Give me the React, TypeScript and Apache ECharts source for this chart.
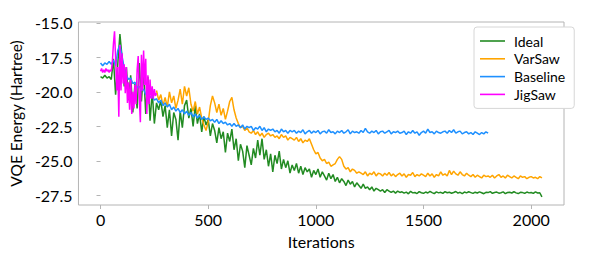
import React, { useEffect, useRef } from "react";
import * as echarts from "echarts";

const seriesNames = ["Ideal", "VarSaw", "Baseline", "JigSaw"];
const seriesColors = ["#228b22", "#ffa500", "#1e90ff", "#ff00ff"];

const xTicks = [0, 500, 1000, 1500, 2000];
const yTicks = [-27.5, -25.0, -22.5, -20.0, -17.5, -15.0];

// Ideal: iterations 0..2050, step 10
const idealStart = 0;
const idealStep = 10;
const idealValues = [
  -18.9, -19.0, -18.8, -19.0, -18.9, -19.1,
  -17.6, -20.2, -18.0, -15.8,
  -17.5, -19.6, -18.2, -20.6, -18.8, -21.5, -19.4, -21.2, -17.9, -20.7,
  -18.4, -21.6, -18.9, -22.1, -20.0, -22.3, -20.8, -21.3, -20.6, -21.8,
  -21.0, -22.6, -21.3, -23.2, -21.5, -22.0, -23.5, -21.4, -22.6, -21.0,
  -20.6, -21.9, -21.2, -22.5, -21.0, -22.3, -21.6, -22.9, -21.8, -22.4,
  -22.0, -23.2, -22.3, -22.8, -23.7, -22.6, -23.4, -22.9, -24.4, -23.0,
  -23.6, -22.7, -24.2, -23.4, -25.0, -23.8, -24.3, -25.5, -23.9, -24.6,
  -25.3, -24.1, -24.8, -23.5, -24.6, -23.4, -24.9, -24.2, -25.4, -24.5,
  -25.8, -24.6, -25.2, -24.3, -25.6, -24.9, -25.5, -25.0, -25.9, -25.3,
  -25.7, -25.2, -25.9, -25.4, -26.0, -25.5, -25.8, -25.6, -26.2, -25.7,
  -26.0, -25.6, -26.2, -25.8, -26.1, -26.4, -25.9, -26.3, -26.0, -26.5,
  -26.2, -26.6, -26.3, -26.5, -26.8, -26.4, -26.7, -26.5, -26.9, -26.6,
  -26.8, -27.0, -26.7, -27.0, -26.9, -27.1, -26.9, -27.2, -27.0, -27.1,
  -27.2, -27.1, -27.3, -27.1, -27.2, -27.3, -27.2, -27.35, -27.2, -27.3,
  -27.25, -27.35, -27.28, -27.4, -27.22, -27.33, -27.3, -27.38, -27.24, -27.32,
  -27.36, -27.27, -27.34, -27.22, -27.31, -27.39, -27.26, -27.33, -27.29, -27.37,
  -27.24, -27.32, -27.28, -27.36, -27.3, -27.23, -27.35, -27.29, -27.38, -27.27,
  -27.33, -27.25, -27.31, -27.37, -27.28, -27.34, -27.26, -27.32, -27.39, -27.29,
  -27.31, -27.24, -27.36, -27.3, -27.27, -27.35, -27.32, -27.26, -27.38, -27.3,
  -27.28, -27.34, -27.25, -27.33, -27.38, -27.29, -27.31, -27.36, -27.27, -27.33,
  -27.3, -27.37, -27.26, -27.34, -27.32, -27.62,
];

// VarSaw: iterations 260..2050, step 10
const varsawStart = 260;
const varsawStep = 10;
const varsawValues = [
  -19.9, -20.6, -20.2, -21.0,
  -20.4, -21.1, -20.0, -20.8, -20.3, -21.2, -20.6, -19.8, -20.9, -19.6,
  -20.3, -19.7, -20.9, -21.4, -20.7, -21.6, -21.1, -21.9, -22.4, -22.8,
  -22.2, -21.0, -20.3, -20.8, -21.5, -20.9, -21.7, -21.2, -22.0, -21.4,
  -20.7, -20.4, -21.3, -21.9, -22.3, -22.6, -22.5, -22.8, -22.6, -22.9,
  -23.0, -22.8, -23.1, -22.9, -23.2, -23.0, -23.3, -23.1, -23.0, -23.2,
  -23.1, -23.3, -23.2, -23.4, -23.1, -23.3, -23.2, -23.5, -23.3, -23.4,
  -23.5, -23.3, -23.6, -23.4, -23.7, -23.5, -23.6, -23.4, -23.8, -24.2,
  -24.5, -24.4, -24.8, -25.0, -24.9, -25.2, -25.1, -25.4, -25.3, -25.2,
  -24.9, -24.7, -24.9, -25.4, -25.6, -25.5, -25.8, -25.6, -25.7, -25.9,
  -25.8, -25.9, -26.0, -25.8, -26.1, -25.9, -26.0, -25.8, -26.1, -25.9,
  -25.95, -26.1, -25.9, -26.05, -25.85, -26.1, -25.95, -26.15, -26.0, -25.9,
  -26.1, -25.95, -26.2, -26.0, -26.05, -25.85, -26.15, -26.0, -26.1, -25.95,
  -26.05, -26.15, -25.9, -26.1, -25.95, -26.2, -26.0, -26.1, -25.8, -26.05,
  -25.95, -26.1, -25.7, -26.0, -25.75, -25.95, -26.05, -25.8, -26.0, -26.1,
  -25.9, -26.05, -26.15, -26.0, -26.2, -26.05, -26.15, -26.25, -26.05, -26.15,
  -26.1, -26.2, -26.05, -26.25, -26.1, -26.0, -26.2, -26.1, -26.25, -26.05,
  -26.15, -26.25, -26.1, -26.2, -26.3, -26.1, -26.2, -26.15, -26.3, -26.2,
  -26.15, -26.25, -26.2, -26.3, -26.15, -26.25,
];

// Baseline: iterations 0..1800, step 10
const baselineStart = 0;
const baselineStep = 10;
const baselineValues = [
  -17.9, -18.1, -17.9, -18.0, -17.8, -18.0,
  -17.7, -18.1, -17.0, -16.6,
  -17.4, -18.3, -18.8, -19.1, -19.0, -19.4, -19.3, -19.7, -19.6, -19.9,
  -19.8, -20.2, -20.1, -20.4, -20.3, -20.6, -20.5, -20.8, -20.6, -21.0,
  -20.8, -21.1, -20.9, -21.3, -21.1, -21.4, -21.2, -21.5, -21.3, -21.6,
  -21.4, -21.7, -21.5, -21.8, -21.6, -21.9, -21.7, -22.0, -21.8, -22.0,
  -21.9, -22.1, -22.0, -22.2, -22.0, -22.3, -22.1, -22.3, -22.2, -22.4,
  -22.3, -22.5, -22.3, -22.5, -22.4, -22.6, -22.4, -22.7, -22.5, -22.6,
  -22.5, -22.8, -22.6, -22.7, -22.5, -22.8, -22.6, -22.9, -22.7, -22.8,
  -22.7, -22.9, -22.8, -23.0, -22.7, -22.9, -22.8, -23.0, -22.8, -22.9,
  -22.8, -23.0, -22.85, -22.95, -22.75, -23.05, -22.9, -22.8, -23.0, -22.85,
  -22.95, -22.8, -23.05, -22.9, -22.85, -23.0, -22.75, -22.95, -22.9, -23.05,
  -22.85, -22.95, -22.8, -23.0, -22.9, -22.75, -23.05, -22.85, -22.95, -22.9,
  -23.0, -22.8, -22.95, -22.65, -22.9, -23.0, -22.85, -22.95, -22.8, -23.05,
  -22.9, -22.85, -23.0, -22.9, -22.8, -23.05, -22.9, -22.95, -22.85, -23.0,
  -22.95, -22.85, -23.1, -22.9, -23.0, -22.8, -23.0, -22.9, -23.15, -22.95,
  -22.85, -23.0, -22.7, -22.95, -22.9, -23.05, -22.85, -22.95, -23.0, -22.9,
  -22.85, -23.0, -22.8, -22.95, -22.75, -23.0, -22.9, -22.85, -23.05, -22.95,
  -22.9, -23.05, -22.95, -23.1, -22.9, -23.0, -23.1, -22.95, -23.05, -22.9,
  -23.0,
];

// JigSaw: iterations 0..260, step 5
const jigsawStart = 0;
const jigsawStep = 5;
const jigsawValues = [
  -18.5, -18.3, -18.6, -18.4, -18.6, -18.3, -18.5, -18.4, -18.6, -18.4, -18.5,
  -17.8, -16.5, -15.6, -17.5, -19.9, -18.2, -21.8, -16.6, -19.9, -17.2,
  -19.4, -18.0, -20.1, -18.2, -20.8, -19.3, -21.3, -19.1, -21.6, -20.0,
  -21.2, -19.5, -20.9, -18.4, -17.4, -20.5, -22.2, -17.3, -19.9, -17.0,
  -19.5, -17.6, -21.6, -18.8, -20.9, -19.1, -20.5, -19.6, -20.5, -19.8,
  -20.3, -20.1,
];

const seriesStarts = [idealStart, varsawStart, baselineStart, jigsawStart];
const seriesSteps = [idealStep, varsawStep, baselineStep, jigsawStep];
const seriesValues = [idealValues, varsawValues, baselineValues, jigsawValues];

const FONT = "Lato, 'DejaVu Sans', sans-serif";

export default function App() {
  const ref = useRef<HTMLDivElement>(null);
  useEffect(() => {
    if (!ref.current) return;
    const chart = echarts.init(ref.current, undefined, { renderer: "svg" });
    const series = seriesNames.map((name, k) => ({
      name,
      type: "line",
      data: seriesValues[k].map((v, i) => [seriesStarts[k] + i * seriesSteps[k], v]),
      symbol: "none",
      showSymbol: false,
      lineStyle: { color: seriesColors[k], width: 1.5 },
      itemStyle: { color: seriesColors[k] },
      emphasis: { disabled: true },
      z: 2 + k,
    }));
    chart.setOption({
      animation: false,
      grid: {
        left: 76,
        right: 34,
        top: 22,
        bottom: 48,
        show: true,
        borderColor: "#b4b4b4",
        borderWidth: 1,
        backgroundColor: "transparent",
      },
      legend: {
        orient: "vertical",
        left: 474,
        top: 27,
        data: seriesNames,
        icon: "rect",
        itemWidth: 25,
        itemHeight: 1.6,
        itemGap: 3.8,
        padding: [7, 9, 7, 6],
        borderColor: "#d6d6d6",
        borderWidth: 1,
        borderRadius: 3,
        backgroundColor: "#ffffff",
        textStyle: { fontFamily: FONT, fontSize: 14, color: "#000", padding: [0, 0, 0, 4] },
      },
      xAxis: {
        type: "value",
        min: -102.5,
        max: 2152.5,
        name: "Iterations",
        nameLocation: "middle",
        nameGap: 28,
        nameTextStyle: { fontFamily: FONT, fontSize: 16, color: "#000" },
        axisLine: { show: false },
        splitLine: { show: false },
        axisTick: {
          show: true,
          length: 4,
          customValues: xTicks,
          lineStyle: { color: "#b4b4b4" },
        },
        axisLabel: {
          customValues: xTicks,
          fontFamily: FONT,
          fontSize: 16,
          color: "#000",
          margin: 6,
          formatter: (v: number) => String(v),
        },
      },
      yAxis: {
        type: "value",
        min: -28.21,
        max: -14.93,
        name: "VQE Energy (Hartree)",
        nameLocation: "middle",
        nameGap: 50,
        nameTextStyle: { fontFamily: FONT, fontSize: 15.5, color: "#000" },
        axisLine: { show: false },
        splitLine: { show: false },
        axisTick: {
          show: true,
          length: 4,
          customValues: yTicks,
          lineStyle: { color: "#b4b4b4" },
        },
        axisLabel: {
          customValues: yTicks,
          fontFamily: FONT,
          fontSize: 16,
          color: "#000",
          margin: 6,
          formatter: (v: number) => v.toFixed(1),
        },
      },
      series,
    });
    return () => chart.dispose();
  }, []);
  return (
    <div
      ref={ref}
      style={{ position: "fixed", left: 0, top: 0, width: 598, height: 254, background: "#fff" }}
    />
  );
}
